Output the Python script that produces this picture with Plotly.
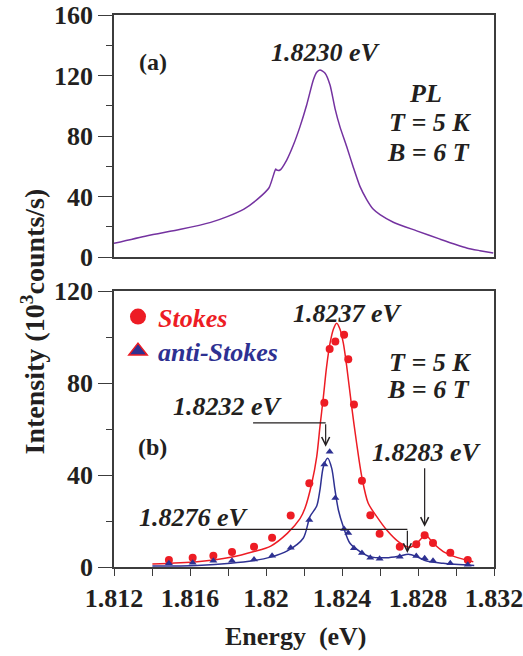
import plotly.graph_objects as go

# ---------------- data ----------------
# (a) PL spectrum
pl_energy = [1.81200, 1.81375, 1.81551, 1.81709, 1.81796, 1.81884, 1.81954, 1.82016,
             1.82051, 1.82056, 1.82074, 1.82109, 1.82144, 1.82179, 1.82214, 1.82249,
             1.82267, 1.82284, 1.82311, 1.82337, 1.82363, 1.82389, 1.82425, 1.82459,
             1.82495, 1.82530, 1.82565, 1.82600, 1.82670, 1.82793, 1.82916, 1.83056,
             1.83126, 1.83196]
pl_intensity = [9.0, 14.1, 18.3, 22.9, 26.7, 31.7, 38.1, 45.8,
                58.2, 57.5, 57.5, 64.1, 74.0, 86.2, 100.5, 117.0,
                122.1, 123.6, 121.5, 113.7, 98.3, 86.2, 72.9, 59.5,
                46.5, 38.0, 31.5, 28.0, 23.0, 17.3, 11.8, 6.0,
                4.2, 2.6]

# (b) Stokes data points
stokes_energy = [1.81489, 1.81614, 1.81723, 1.81821, 1.81937, 1.82032, 1.82130, 1.82228,
                 1.82307, 1.82335, 1.82365, 1.82411, 1.82433, 1.82463, 1.82505, 1.82549,
                 1.82598, 1.82704, 1.82791, 1.82835, 1.82879, 1.82970, 1.83062]
stokes_intensity = [3.0, 4.0, 4.9, 6.5, 8.8, 12.7, 22.4, 36.4,
                    71.4, 94.8, 98.0, 101.0, 90.3, 70.7, 37.5, 22.5,
                    14.5, 8.8, 9.9, 13.8, 10.4, 6.2, 3.0]

# (b) anti-Stokes data points
anti_energy = [1.81489, 1.81614, 1.81723, 1.81821, 1.81937, 1.82032, 1.82130, 1.82228,
               1.82307, 1.82335, 1.82365, 1.82411, 1.82433, 1.82463, 1.82505, 1.82549,
               1.82598, 1.82704, 1.82791, 1.82835, 1.82879, 1.82970, 1.83062]
anti_intensity = [1.6, 1.9, 2.7, 2.7, 3.3, 4.9, 8.4, 20.4,
                  44.6, 50.1, 30.0, 16.5, 14.8, 8.2, 6.1, 4.0,
                  3.6, 4.5, 4.8, 3.8, 2.7, 1.6, 1.0]

# (b) fit curves
stokes_fit_energy = [1.81402, 1.81638, 1.81814, 1.81937, 1.82025, 1.82112, 1.82179, 1.82205,
                     1.82241, 1.82267, 1.82284, 1.82302, 1.82319, 1.82337, 1.82355, 1.82372,
                     1.82389, 1.82407, 1.82425, 1.82451, 1.82477, 1.82504, 1.82538, 1.82583,
                     1.82635, 1.82705, 1.82758, 1.82793, 1.82828, 1.82846, 1.82881, 1.82933,
                     1.83004, 1.83091]
stokes_fit = [1.3, 2.3, 4.2, 6.7, 9.1, 14.6, 21.0, 25.5,
              36.4, 48.0, 61.0, 74.0, 87.1, 97.3, 103.5, 106.0,
              103.5, 97.3, 87.1, 69.7, 53.8, 39.3, 27.7, 21.9,
              16.1, 10.5, 8.6, 10.3, 13.2, 13.5, 10.3, 6.7,
              4.2, 2.3]

anti_fit_energy = [1.81402, 1.81638, 1.81814, 1.81937, 1.82025, 1.82112, 1.82196, 1.82232,
                   1.82267, 1.82284, 1.82302, 1.82325, 1.82346, 1.82363, 1.82381, 1.82407,
                   1.82442, 1.82495, 1.82547, 1.82635, 1.82705, 1.82749, 1.82793, 1.82846,
                   1.82933, 1.83096]
anti_fit = [0.4, 0.7, 1.6, 2.8, 4.3, 7.0, 12.5, 22.0,
            26.5, 33.5, 43.6, 47.3, 42.9, 33.5, 24.8, 17.5,
            10.3, 6.7, 4.5, 4.0, 4.8, 5.5, 4.5, 2.6,
            1.6, 0.7]

x_tickvals = [1.812, 1.816, 1.820, 1.824, 1.828, 1.832]
x_ticktext = ["1.812", "1.816", "1.82", "1.824", "1.828", "1.832"]
ya_tickvals = [0, 40, 80, 120, 160]
yb_tickvals = [0, 40, 80, 120]

# ---------------- style ----------------
FONT = "Liberation Serif"
TXT = "#231F20"
FRAME = "#3C3C3C"
PURPLE = "#7432A0"
RED = "#ED1C24"
BLUE = "#2E3192"

fig = go.Figure()

fig.add_trace(go.Scatter(x=pl_energy, y=pl_intensity, mode="lines",
                         line=dict(color=PURPLE, width=1.5, shape="spline", smoothing=0.6),
                         xaxis="x2", yaxis="y2", showlegend=False, hoverinfo="skip"))

fig.add_trace(go.Scatter(x=stokes_fit_energy, y=stokes_fit, mode="lines",
                         line=dict(color=RED, width=1.5, shape="spline", smoothing=0.8),
                         showlegend=False, hoverinfo="skip"))
fig.add_trace(go.Scatter(x=anti_fit_energy, y=anti_fit, mode="lines",
                         line=dict(color=BLUE, width=1.5, shape="spline", smoothing=0.8),
                         showlegend=False, hoverinfo="skip"))
fig.add_trace(go.Scatter(x=stokes_energy, y=stokes_intensity, mode="markers",
                         marker=dict(symbol="circle", size=8, color=RED),
                         showlegend=False))
fig.add_trace(go.Scatter(x=anti_energy, y=anti_intensity, mode="markers",
                         marker=dict(symbol="triangle-up", size=7, color=BLUE),
                         showlegend=False))

# legend-only entries (one legend each, for exact spacing)
fig.add_trace(go.Scatter(x=[None], y=[None], mode="markers", legend="legend",
                         name=f"<span style='color:{RED}'>Stokes</span>",
                         marker=dict(symbol="circle", size=16, color=RED)))
fig.add_trace(go.Scatter(x=[None], y=[None], mode="markers", legend="legend2",
                         name=f"<span style='color:{BLUE}'>anti-Stokes</span>",
                         marker=dict(symbol="triangle-up", size=16, color=BLUE,
                                     line=dict(color=RED, width=1.5))))

tickfont = dict(family=FONT, size=26, color=TXT, weight="bold")
common_x = dict(range=[1.812, 1.832], showline=True, linecolor=FRAME, linewidth=1.5,
                mirror=True, showgrid=False, zeroline=False, automargin=False)
legfont = dict(family=FONT, size=26, weight="bold", style="italic")
fig.update_layout(
    width=523, height=656,
    margin=dict(l=114, r=29, t=15, b=89, autoexpand=False),
    paper_bgcolor="white", plot_bgcolor="white",
    font=dict(family=FONT, color=TXT),
    xaxis=dict(**common_x, anchor="y", domain=[0, 1],
               tickmode="array", tickvals=x_tickvals, ticktext=x_ticktext,
               ticks="outside", ticklen=7, tickwidth=1.2, tickcolor=FRAME,
               ticklabeloverflow="allow",
               minor=dict(dtick=0.002, tick0=1.812, ticks="outside", ticklen=7,
                          tickwidth=1.2, tickcolor=FRAME),
               tickfont=tickfont),
    xaxis2=dict(**common_x, anchor="y2", domain=[0, 1], showticklabels=False, ticks=""),
    yaxis=dict(domain=[0, 0.5], range=[0, 120], showline=True, linecolor=FRAME,
               linewidth=1.5, mirror=True, showgrid=False, zeroline=False,
               automargin=False, ticklabeloverflow="allow",
               tickmode="array", tickvals=yb_tickvals, ticks="outside", ticklen=14,
               tickwidth=1.2, tickcolor=FRAME,
               minor=dict(dtick=20, tick0=0, ticks="outside", ticklen=6,
                          tickwidth=1.2, tickcolor=FRAME),
               tickfont=tickfont),
    yaxis2=dict(domain=[0.5616, 1], range=[0, 160], anchor="x2", showline=True,
                linecolor=FRAME, linewidth=1.5, mirror=True, showgrid=False,
                zeroline=False, automargin=False, ticklabeloverflow="allow",
                tickmode="array", tickvals=ya_tickvals, ticks="outside",
                ticklen=14, tickwidth=1.2, tickcolor=FRAME,
                minor=dict(dtick=20, tick0=0, ticks="outside", ticklen=6,
                           tickwidth=1.2, tickcolor=FRAME),
                tickfont=tickfont),
    showlegend=True,
    legend=dict(x=0.0105, y=0.496, xanchor="left", yanchor="top",
                bgcolor="rgba(0,0,0,0)", itemsizing="trace", font=legfont),
    legend2=dict(x=0.0105, y=0.4335, xanchor="left", yanchor="top",
                 bgcolor="rgba(0,0,0,0)", itemsizing="trace", font=legfont),
)

bi = dict(family=FONT, size=26, color=TXT, weight="bold", style="italic")
b = dict(family=FONT, size=24, color=TXT, weight="bold")

# panel (a) text: (text, x, y, font)
top_texts = [("(a)", 1.81405, 128.9, b),
             ("1.8230 eV", 1.82316, 134.9, bi),
             ("PL", 1.82837, 108.4, bi),
             ("T = 5 K", 1.82863, 88.6, bi),
             ("B = 6 T", 1.82853, 68.8, bi)]
for t, x, y, f in top_texts:
    fig.add_annotation(text=t, x=x, y=y, xref="x2", yref="y2", showarrow=False,
                       font=f, xanchor="center", yanchor="middle")

bot_texts = [("1.8237 eV", 1.82432, 110.4, bi),
             ("T = 5 K", 1.82863, 89.1, bi),
             ("B = 6 T", 1.82853, 77.0, bi),
             ("1.8232 eV", 1.81800, 69.6, bi),
             ("(b)", 1.81405, 52.2, b),
             ("1.8276 eV", 1.81621, 21.7, bi),
             ("1.8283 eV", 1.82847, 50.0, bi)]
for t, x, y, f in bot_texts:
    fig.add_annotation(text=t, x=x, y=y, xref="x", yref="y", showarrow=False,
                       font=f, xanchor="center", yanchor="middle")

# pointer lines: (x_start, x_corner, y_level, y_tip)
pointers = [(1.81932, 1.82314, 62.7, 52.3),
            (1.81700, 1.82744, 16.4, 6.1)]
for xs, xc, yl, yt in pointers:
    fig.add_shape(type="line", x0=xs, x1=xc, y0=yl, y1=yl, xref="x", yref="y",
                  line=dict(color=TXT, width=1.2))
    fig.add_annotation(x=xc, y=yt, ax=xc, ay=yl, xref="x", yref="y", axref="x", ayref="y",
                       text="", showarrow=True, arrowhead=5, arrowsize=1.3,
                       arrowwidth=1.2, arrowcolor=TXT, standoff=0)
fig.add_annotation(x=1.82835, y=17.5, ax=1.82835, ay=43.6, xref="x", yref="y",
                   axref="x", ayref="y", text="", showarrow=True, arrowhead=5,
                   arrowsize=1.3, arrowwidth=1.2, arrowcolor=TXT, standoff=0)

# axis titles
fig.add_annotation(text="Energy\u00a0 (eV)", x=0.479, y=-0.1268, xref="paper", yref="paper",
                   showarrow=False, xanchor="center", yanchor="middle",
                   font=dict(family=FONT, size=26, color=TXT, weight="bold"))
fig.add_annotation(text="Intensity (10<sup>3</sup>counts/s)", x=-0.213, y=0.445,
                   xref="paper", yref="paper", showarrow=False, textangle=-90,
                   xanchor="center", yanchor="middle",
                   font=dict(family=FONT, size=28, color=TXT, weight="bold"))

fig.write_html("out.html")
